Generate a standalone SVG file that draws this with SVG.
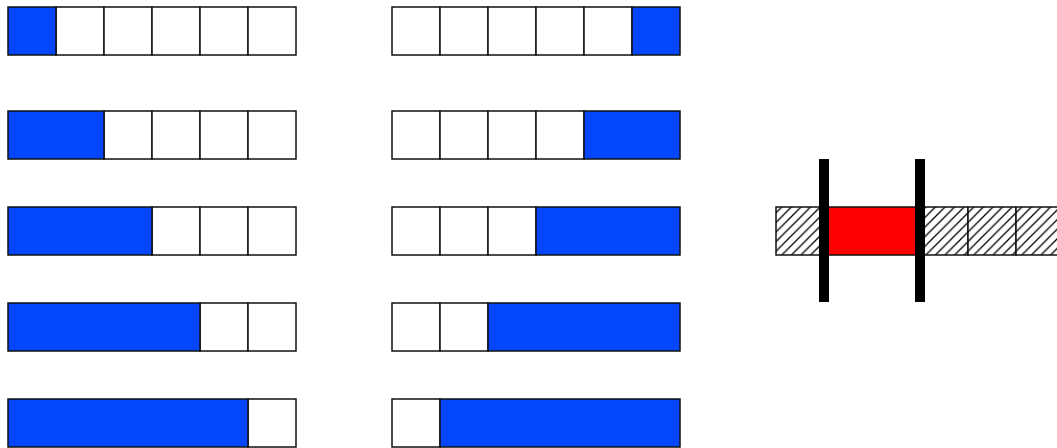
<svg xmlns="http://www.w3.org/2000/svg" width="1057" height="448" viewBox="0 0 1057 448">
<style>
.c{fill:#fff;stroke:#111;stroke-width:1.5}
.b{fill:#0546ff;stroke:#111;stroke-width:1.5}
.h{fill:url(#hatch);stroke:#111;stroke-width:1.5}
.r{fill:#ff0000;stroke:#111;stroke-width:1.5}
.bar{fill:#000}
</style>
<defs>
<pattern id="hatch" patternUnits="userSpaceOnUse" x="0" y="0" width="9.6" height="9.6">
<rect width="9.6" height="9.6" fill="#fff"/>
<path d="M-1,1 L1,-1 M0,9.6 L9.6,0 M8.6,10.6 L10.6,8.6" stroke="#000" stroke-width="1.3"/>
</pattern>
</defs>
<g id="left-row1"><rect class="c" x="56" y="7" width="48" height="48"/><rect class="c" x="104" y="7" width="48" height="48"/><rect class="c" x="152" y="7" width="48" height="48"/><rect class="c" x="200" y="7" width="48" height="48"/><rect class="c" x="248" y="7" width="48" height="48"/><rect class="b" x="8" y="7" width="48" height="48"/></g>
<g id="left-row2"><rect class="c" x="104" y="111" width="48" height="48"/><rect class="c" x="152" y="111" width="48" height="48"/><rect class="c" x="200" y="111" width="48" height="48"/><rect class="c" x="248" y="111" width="48" height="48"/><rect class="b" x="8" y="111" width="96" height="48"/></g>
<g id="left-row3"><rect class="c" x="152" y="207" width="48" height="48"/><rect class="c" x="200" y="207" width="48" height="48"/><rect class="c" x="248" y="207" width="48" height="48"/><rect class="b" x="8" y="207" width="144" height="48"/></g>
<g id="left-row4"><rect class="c" x="200" y="303" width="48" height="48"/><rect class="c" x="248" y="303" width="48" height="48"/><rect class="b" x="8" y="303" width="192" height="48"/></g>
<g id="left-row5"><rect class="c" x="248" y="399" width="48" height="48"/><rect class="b" x="8" y="399" width="240" height="48"/></g>
<g id="right-row1"><rect class="c" x="392" y="7" width="48" height="48"/><rect class="c" x="440" y="7" width="48" height="48"/><rect class="c" x="488" y="7" width="48" height="48"/><rect class="c" x="536" y="7" width="48" height="48"/><rect class="c" x="584" y="7" width="48" height="48"/><rect class="b" x="632" y="7" width="48" height="48"/></g>
<g id="right-row2"><rect class="c" x="392" y="111" width="48" height="48"/><rect class="c" x="440" y="111" width="48" height="48"/><rect class="c" x="488" y="111" width="48" height="48"/><rect class="c" x="536" y="111" width="48" height="48"/><rect class="b" x="584" y="111" width="96" height="48"/></g>
<g id="right-row3"><rect class="c" x="392" y="207" width="48" height="48"/><rect class="c" x="440" y="207" width="48" height="48"/><rect class="c" x="488" y="207" width="48" height="48"/><rect class="b" x="536" y="207" width="144" height="48"/></g>
<g id="right-row4"><rect class="c" x="392" y="303" width="48" height="48"/><rect class="c" x="440" y="303" width="48" height="48"/><rect class="b" x="488" y="303" width="192" height="48"/></g>
<g id="right-row5"><rect class="c" x="392" y="399" width="48" height="48"/><rect class="b" x="440" y="399" width="240" height="48"/></g>
<g id="hatched-bar">
<rect class="h" x="776" y="207" width="48" height="48"/>
<rect class="r" x="824" y="207" width="96" height="48"/>
<rect class="h" x="920" y="207" width="48" height="48"/>
<rect class="h" x="968" y="207" width="48" height="48"/>
<rect class="h" x="1016" y="207" width="48" height="48"/>
<rect class="bar" x="819" y="159" width="10" height="143"/>
<rect class="bar" x="915" y="159" width="10" height="143"/>
</g>
<g id="connectors"/>
</svg>
